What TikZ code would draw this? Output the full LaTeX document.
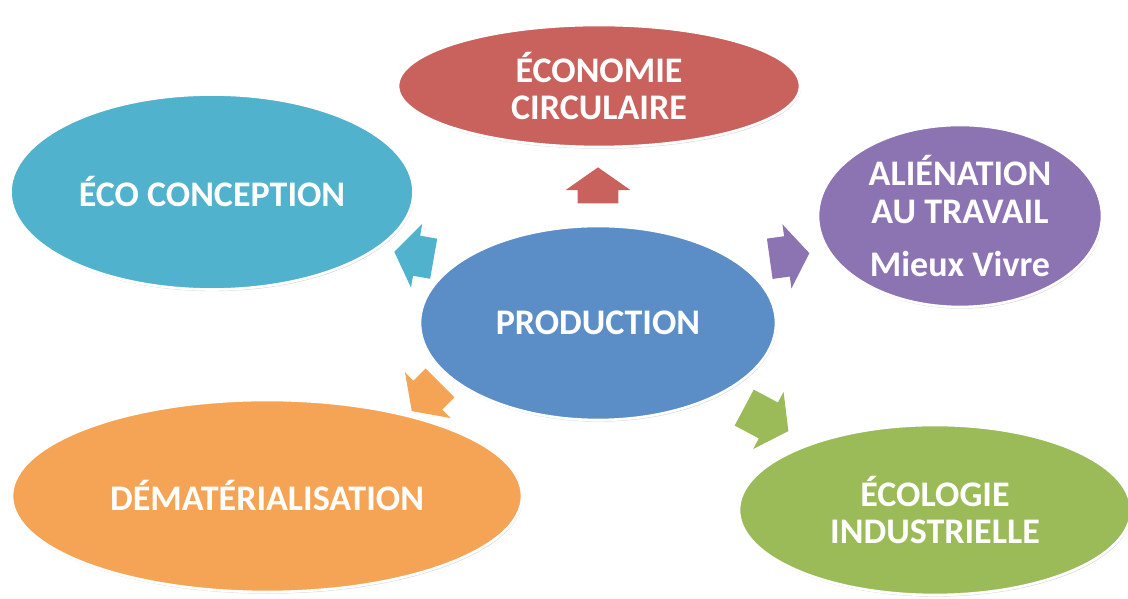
\documentclass[tikz,border=0pt]{standalone}
\usepackage{fontspec}
\setmainfont{Carlito}
\usetikzlibrary{shapes.geometric, shapes.arrows, shadows}

\definecolor{rouge}{RGB}{201,98,93}
\definecolor{turquoise}{RGB}{80,178,204}
\definecolor{violet}{RGB}{140,115,178}
\definecolor{bleu}{RGB}{91,142,198}
\definecolor{orange}{RGB}{245,164,86}
\definecolor{vert}{RGB}{155,187,89}

\begin{document}
\begin{tikzpicture}[
	bulle/.style={ellipse, draw=white, line width=1.5pt, inner sep=0pt, text=white, align=center,
		font=\bfseries\fontsize{20.5}{21.6}\selectfont,
		drop shadow={opacity=0.3, shadow xshift=0.5pt, shadow yshift=-1pt}},
	fleche/.style={single arrow, minimum height=0.8cm, inner xsep=0pt, inner ysep=0.4cm,
		single arrow head extend=0.24cm, single arrow tip angle=110}
]
	%\draw[help lines] (0,0) grid (23,12);
	\useasboundingbox (0,0) rectangle (22.56,11.98);

	\node (circulaire) [bulle, fill=rouge, minimum width=8.04cm, minimum height=2.44cm] at (11.98,10.26) {ÉCONOMIE\\CIRCULAIRE};
	\node (conception) [bulle, fill=turquoise, minimum width=8.06cm, minimum height=3.9cm] at (4.24,8.14) {ÉCO CONCEPTION};
	\node (alienation) [bulle, fill=violet, minimum width=5.68cm, minimum height=3.64cm] at (19.2,7.66) {ALIÉNATION\\AU TRAVAIL\\[9pt]Mieux Vivre};
	\node (production) [bulle, fill=bleu, minimum width=7.12cm, minimum height=3.88cm] at (11.96,5.52) {PRODUCTION};
	\node (demat) [bulle, fill=orange, minimum width=10.2cm, minimum height=3.84cm] at (5.34,2.06) {DÉMATÉRIALISATION};
	\node (ecologie) [bulle, fill=vert, minimum width=7.84cm, minimum height=3.4cm] at (18.7,1.78) {ÉCOLOGIE\\INDUSTRIELLE};

	\node (flrouge) [fleche, fill=rouge, rotate=90, minimum height=0.72cm] at (11.96,8.13) {};
	\node (flturquoise) [fleche, fill=turquoise, rotate=170] at (8.42,6.85) {};
	\node (flviolet) [fleche, fill=violet, rotate=8] at (15.65,6.84) {};
	\node (florange) [fleche, fill=orange, rotate=225] at (8.62,4.14) {};
	\node (flvert) [fleche, fill=vert, rotate=-28, minimum height=1cm] at (15.2,3.66) {};
\end{tikzpicture}
\end{document}
